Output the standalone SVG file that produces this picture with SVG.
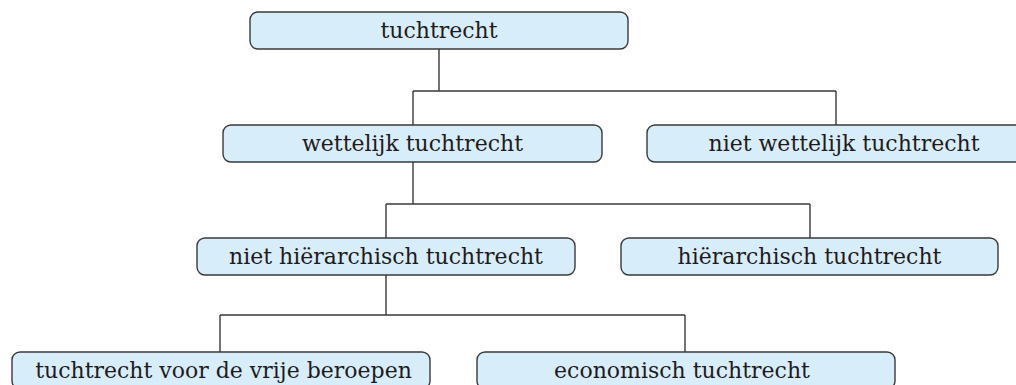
<svg xmlns="http://www.w3.org/2000/svg" width="1016" height="385" viewBox="0 0 1016 385">
<style>
.box{fill:#d7edfa;stroke:#3a3a3a;stroke-width:1.4}
.lbl{font-family:"DejaVu Serif",serif;font-size:22px;fill:#1f1b1c;text-anchor:middle}
.conn{fill:none;stroke:#3a3a3a;stroke-width:1.4}
</style>
<rect width="1016" height="385" fill="#ffffff"/>
<g id="connectors">
<path class="conn" d="M439,49 V91 M413,91 H836 M413,91 V125 M836,91 V125"/>
<path class="conn" d="M413,162 V204 M386,204 H810 M386,204 V238 M810,204 V238"/>
<path class="conn" d="M386,275 V315 M220,315 H685 M220,315 V352 M685,315 V352"/>
</g>
<g id="n1"><rect class="box" x="250" y="12" width="378" height="37" rx="8"/><text class="lbl" x="439" y="38">tuchtrecht</text></g>
<g id="n2"><rect class="box" x="223" y="125" width="379" height="37" rx="8"/><text class="lbl" x="412.5" y="151">wettelijk tuchtrecht</text></g>
<g id="n3"><rect class="box" x="647" y="125" width="394" height="37" rx="8"/><text class="lbl" x="844" y="151">niet wettelijk tuchtrecht</text></g>
<g id="n4"><rect class="box" x="197" y="238" width="378" height="37" rx="8"/><text class="lbl" x="386" y="264">niet hiërarchisch tuchtrecht</text></g>
<g id="n5"><rect class="box" x="621" y="238" width="377" height="37" rx="8"/><text class="lbl" x="809.5" y="264">hiërarchisch tuchtrecht</text></g>
<g id="n6"><rect class="box" x="12" y="352" width="418" height="37" rx="8"/><text class="lbl" x="223.5" y="378">tuchtrecht voor de vrije beroepen</text></g>
<g id="n7"><rect class="box" x="477" y="352" width="418" height="37" rx="8"/><text class="lbl" x="682" y="378">economisch tuchtrecht</text></g>
</svg>
